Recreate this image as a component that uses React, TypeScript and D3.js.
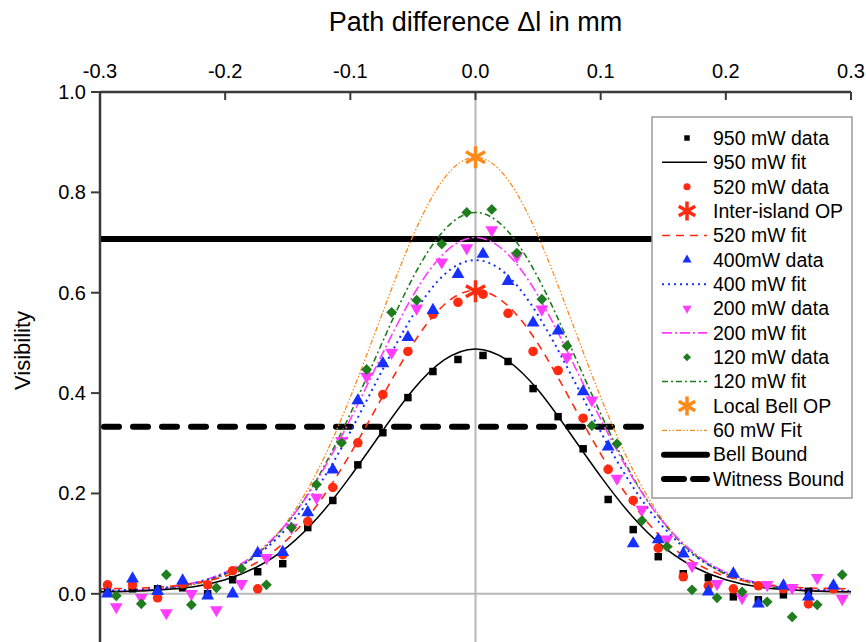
import React, { useEffect, useRef } from 'react';
import * as d3 from 'd3';

// measured points: black / red / blue share one x grid, magenta / green another
const xA = [-0.294, -0.274, -0.254, -0.234, -0.214, -0.194, -0.174, -0.154, -0.134, -0.114, -0.094, -0.074, -0.054, -0.034, -0.014, 0.006, 0.026, 0.046, 0.066, 0.086, 0.106, 0.126, 0.146, 0.166, 0.186, 0.206, 0.226, 0.246, 0.266, 0.286];
const xB = [-0.287, -0.267, -0.247, -0.227, -0.207, -0.187, -0.167, -0.147, -0.127, -0.107, -0.087, -0.067, -0.047, -0.027, -0.007, 0.013, 0.033, 0.053, 0.073, 0.093, 0.113, 0.133, 0.153, 0.173, 0.193, 0.213, 0.233, 0.253, 0.273, 0.293];

const data950 = [0.006, 0.010, 0.010, 0.012, 0.000, 0.028, 0.044, 0.060, 0.132, 0.186, 0.257, 0.321, 0.391, 0.443, 0.467, 0.475, 0.463, 0.409, 0.353, 0.289, 0.188, 0.128, 0.074, 0.040, 0.032, -0.006, -0.012, -0.002, 0.005, 0.012];
const data520 = [0.018, 0.018, -0.008, 0.020, 0.018, 0.046, 0.010, 0.078, 0.144, 0.212, 0.301, 0.397, 0.483, 0.557, 0.581, 0.597, 0.559, 0.483, 0.445, 0.350, 0.248, 0.186, 0.091, 0.034, 0.016, 0.010, 0.016, 0.010, -0.020, 0.010];
const data400 = [0.000, 0.030, 0.005, 0.026, -0.004, 0.000, 0.081, 0.083, 0.162, 0.247, 0.385, 0.459, 0.511, 0.565, 0.637, 0.677, 0.623, 0.540, 0.524, 0.403, 0.293, 0.100, 0.108, 0.080, 0.004, 0.040, -0.020, 0.016, -0.006, 0.016];
const data200 = [-0.026, -0.008, -0.038, 0.000, -0.032, 0.020, 0.072, 0.132, 0.192, 0.305, 0.433, 0.481, 0.569, 0.661, 0.689, 0.725, 0.673, 0.567, 0.472, 0.386, 0.230, 0.168, 0.109, 0.056, 0.020, -0.008, 0.018, 0.012, 0.032, -0.010];
const data120 = [-0.004, -0.020, 0.038, -0.022, 0.012, 0.050, 0.018, 0.132, 0.218, 0.301, 0.447, 0.561, 0.585, 0.697, 0.760, 0.766, 0.679, 0.587, 0.494, 0.335, 0.299, 0.146, 0.094, 0.008, -0.008, 0.004, -0.016, -0.046, -0.022, 0.038];

// fitted curves
const xFit = [-0.3, -0.275, -0.25, -0.225, -0.2, -0.175, -0.15, -0.125, -0.1, -0.075, -0.05, -0.025, 0, 0.025, 0.05, 0.075, 0.1, 0.125, 0.15, 0.175, 0.2, 0.225, 0.25, 0.275, 0.3];
const fit950 = [0.004, 0.005, 0.008, 0.014, 0.028, 0.053, 0.094, 0.155, 0.234, 0.322, 0.406, 0.466, 0.488, 0.466, 0.406, 0.322, 0.234, 0.155, 0.094, 0.053, 0.028, 0.014, 0.008, 0.005, 0.004];
const fit520 = [0.010, 0.011, 0.014, 0.021, 0.035, 0.062, 0.109, 0.182, 0.279, 0.390, 0.498, 0.576, 0.605, 0.576, 0.498, 0.390, 0.279, 0.182, 0.109, 0.062, 0.035, 0.021, 0.014, 0.011, 0.010];
const fit400 = [0.006, 0.008, 0.012, 0.021, 0.041, 0.076, 0.133, 0.216, 0.323, 0.443, 0.555, 0.636, 0.665, 0.636, 0.555, 0.443, 0.323, 0.216, 0.133, 0.076, 0.041, 0.021, 0.012, 0.008, 0.006];
const fit200 = [0.004, 0.006, 0.011, 0.022, 0.043, 0.081, 0.143, 0.233, 0.348, 0.475, 0.594, 0.679, 0.710, 0.679, 0.594, 0.475, 0.348, 0.233, 0.143, 0.081, 0.043, 0.022, 0.011, 0.006, 0.004];
const fit120 = [0.004, 0.006, 0.010, 0.020, 0.040, 0.078, 0.142, 0.236, 0.359, 0.498, 0.630, 0.725, 0.760, 0.725, 0.630, 0.498, 0.359, 0.236, 0.142, 0.078, 0.040, 0.020, 0.010, 0.006, 0.004];
const fit60 = [0.004, 0.005, 0.009, 0.018, 0.038, 0.078, 0.146, 0.251, 0.392, 0.555, 0.713, 0.828, 0.870, 0.828, 0.713, 0.555, 0.392, 0.251, 0.146, 0.078, 0.038, 0.018, 0.009, 0.005, 0.004];

const interIslandOP = [0, 0.603];
const localBellOP = [0, 0.870];
const bellBound = 0.707;
const witnessBound = 0.333;

const xTicks = [-0.3, -0.2, -0.1, 0, 0.1, 0.2, 0.3];
const yTicks = [0, 0.2, 0.4, 0.6, 0.8, 1.0];

const FONT = "'Liberation Sans', Arial, sans-serif";
const RED = '#ff2a10';
const BLUE = '#1530ff';
const MAGENTA = '#ff3cff';
const GREEN = '#1f7d1f';
const ORANGE = '#ff8a1a';

const fmt = (d: number) => d.toFixed(1);

export default function App() {
  const ref = useRef<SVGSVGElement>(null);

  useEffect(() => {
    document.body.style.margin = '0';
    const svg = d3.select(ref.current);
    svg.selectAll('*').remove();

    const x = d3.scaleLinear().domain([-0.3, 0.3]).range([100, 851]);
    const y = d3.scaleLinear().domain([-0.1, 1.0]).range([644, 92]);

    svg.append('rect').attr('width', 866).attr('height', 642).attr('fill', 'white');

    // zero lines
    svg.append('line')
      .attr('x1', x(0)).attr('x2', x(0)).attr('y1', y(1)).attr('y2', 642)
      .attr('stroke', '#b8b8b8').attr('stroke-width', 2);
    svg.append('line')
      .attr('x1', x(-0.3)).attr('x2', x(0.3)).attr('y1', y(0)).attr('y2', y(0))
      .attr('stroke', '#b8b8b8').attr('stroke-width', 2);

    // bounds
    svg.append('line')
      .attr('x1', x(-0.3)).attr('x2', x(0.3)).attr('y1', y(bellBound)).attr('y2', y(bellBound))
      .attr('stroke', 'black').attr('stroke-width', 6);
    svg.append('line')
      .attr('x1', x(-0.3) + 4).attr('x2', x(0.3)).attr('y1', y(witnessBound)).attr('y2', y(witnessBound))
      .attr('stroke', 'black').attr('stroke-width', 6)
      .attr('stroke-dasharray', '15,14').attr('stroke-linecap', 'round');

    const line = d3.line<number>()
      .x((d, i) => x(xFit[i]))
      .y(d => y(d))
      .curve(d3.curveNatural);

    const fits = [
      { v: fit60, color: ORANGE, dash: '5,2,1.5,2,1.5,2', w: 1.3 },
      { v: fit120, color: GREEN, dash: '6,3,2,3', w: 1.6 },
      { v: fit200, color: MAGENTA, dash: '10,3,2,3', w: 1.6 },
      { v: fit400, color: BLUE, dash: '2,4', w: 2 },
      { v: fit520, color: RED, dash: '8,6', w: 1.6 },
      { v: fit950, color: 'black', dash: null, w: 1.5 }
    ];
    fits.forEach(f => {
      svg.append('path')
        .attr('d', line(f.v))
        .attr('fill', 'none')
        .attr('stroke', f.color)
        .attr('stroke-width', f.w)
        .attr('stroke-dasharray', f.dash);
    });

    const series = [
      { xs: xA, v: data950, color: 'black', sym: d3.symbolSquare, size: 56, rot: 0 },
      { xs: xA, v: data520, color: RED, sym: d3.symbolCircle, size: 72, rot: 0 },
      { xs: xA, v: data400, color: BLUE, sym: d3.symbolTriangle, size: 72, rot: 0 },
      { xs: xB, v: data200, color: MAGENTA, sym: d3.symbolTriangle, size: 72, rot: 180 },
      { xs: xB, v: data120, color: GREEN, sym: d3.symbolSquare, size: 58, rot: 45 }
    ];
    series.forEach(s => {
      svg.append('g')
        .selectAll('path')
        .data(s.v)
        .join('path')
        .attr('d', d3.symbol().type(s.sym).size(s.size)())
        .attr('fill', s.color)
        .attr('transform', (d, i) => `translate(${x(s.xs[i])},${y(d)}) rotate(${s.rot})`);
    });

    const star = (g, cx, cy, r, color) => {
      const p = d3.path();
      [90, 30, -30].forEach(a => {
        const rad = (a * Math.PI) / 180;
        p.moveTo(cx - r * Math.cos(rad), cy - r * Math.sin(rad));
        p.lineTo(cx + r * Math.cos(rad), cy + r * Math.sin(rad));
      });
      g.append('path').attr('d', p.toString()).attr('stroke', color)
        .attr('stroke-width', 3.5).attr('fill', 'none');
    };
    star(svg, x(interIslandOP[0]), y(interIslandOP[1]), 11, RED);
    star(svg, x(localBellOP[0]), y(localBellOP[1]), 11, ORANGE);

    // axes
    const axisColor = '#3a3a3a';
    svg.append('line')
      .attr('x1', x(-0.3)).attr('x2', x(-0.3)).attr('y1', y(1)).attr('y2', 642)
      .attr('stroke', axisColor).attr('stroke-width', 2.5);
    svg.append('line')
      .attr('x1', x(-0.3)).attr('x2', x(0.3)).attr('y1', y(1)).attr('y2', y(1))
      .attr('stroke', axisColor).attr('stroke-width', 2.5);

    svg.append('g').selectAll('line').data(xTicks).join('line')
      .attr('x1', d => x(d)).attr('x2', d => x(d))
      .attr('y1', y(1)).attr('y2', y(1) + 8)
      .attr('stroke', axisColor).attr('stroke-width', 2);
    svg.append('g').selectAll('text').data(xTicks).join('text')
      .attr('x', d => x(d)).attr('y', 78)
      .attr('text-anchor', 'middle')
      .attr('font-family', FONT).attr('font-size', 20)
      .text(fmt);

    svg.append('g').selectAll('line').data(yTicks).join('line')
      .attr('x1', x(-0.3) - 9).attr('x2', x(-0.3))
      .attr('y1', d => y(d)).attr('y2', d => y(d))
      .attr('stroke', axisColor).attr('stroke-width', 2);
    svg.append('g').selectAll('text').data(yTicks).join('text')
      .attr('x', 86).attr('y', d => y(d))
      .attr('dy', '0.35em')
      .attr('text-anchor', 'end')
      .attr('font-family', FONT).attr('font-size', 20)
      .text(fmt);

    svg.append('text')
      .attr('x', x(0)).attr('y', 31)
      .attr('text-anchor', 'middle')
      .attr('font-family', FONT).attr('font-size', 27)
      .text('Path difference \u0394l in mm');
    svg.append('text')
      .attr('transform', `translate(30,${y(0.485)}) rotate(-90)`)
      .attr('text-anchor', 'middle')
      .attr('font-family', FONT).attr('font-size', 22)
      .text('Visibility');

    // legend
    const lg = svg.append('g');
    lg.append('rect')
      .attr('x', 652).attr('y', 117).attr('width', 200).attr('height', 381)
      .attr('fill', 'white').attr('stroke', '#9a9a9a').attr('stroke-width', 1.5);

    const legendItems = [
      { label: '950 mW data', kind: 'sym', color: 'black', sym: d3.symbolSquare, size: 30, rot: 0 },
      { label: '950 mW fit', kind: 'line', color: 'black', dash: null, w: 1.5 },
      { label: '520 mW data', kind: 'sym', color: RED, sym: d3.symbolCircle, size: 40, rot: 0 },
      { label: 'Inter-island OP', kind: 'star', color: RED },
      { label: '520 mW fit', kind: 'line', color: RED, dash: '8,6', w: 1.6 },
      { label: '400mW data', kind: 'sym', color: BLUE, sym: d3.symbolTriangle, size: 36, rot: 0 },
      { label: '400 mW fit', kind: 'line', color: BLUE, dash: '2,4', w: 2 },
      { label: '200 mW data', kind: 'sym', color: MAGENTA, sym: d3.symbolTriangle, size: 36, rot: 180 },
      { label: '200 mW fit', kind: 'line', color: MAGENTA, dash: '10,3,2,3', w: 1.6 },
      { label: '120 mW data', kind: 'sym', color: GREEN, sym: d3.symbolSquare, size: 32, rot: 45 },
      { label: '120 mW fit', kind: 'line', color: GREEN, dash: '6,3,2,3', w: 1.6 },
      { label: 'Local Bell OP', kind: 'star', color: ORANGE },
      { label: '60 mW Fit', kind: 'line', color: ORANGE, dash: '5,2,1.5,2,1.5,2', w: 1.3 },
      { label: 'Bell Bound', kind: 'bound', color: 'black', dash: null },
      { label: 'Witness Bound', kind: 'bound', color: 'black', dash: '20,9' }
    ];
    const rowY = d3.scaleLinear().domain([0, legendItems.length - 1]).range([138, 479]);
    legendItems.forEach((it, i) => {
      const cy = rowY(i);
      if (it.kind === 'sym') {
        lg.append('path')
          .attr('d', d3.symbol().type(it.sym).size(it.size)())
          .attr('fill', it.color)
          .attr('transform', `translate(687,${cy}) rotate(${it.rot})`);
      } else if (it.kind === 'line') {
        lg.append('line')
          .attr('x1', 662).attr('x2', 707).attr('y1', cy).attr('y2', cy)
          .attr('stroke', it.color).attr('stroke-width', it.w)
          .attr('stroke-dasharray', it.dash);
      } else if (it.kind === 'star') {
        star(lg, 687, cy, 9.5, it.color);
      } else {
        lg.append('line')
          .attr('x1', 664).attr('x2', 707).attr('y1', cy).attr('y2', cy)
          .attr('stroke', it.color).attr('stroke-width', 6)
          .attr('stroke-linecap', 'round')
          .attr('stroke-dasharray', it.dash);
      }
      lg.append('text')
        .attr('x', 713).attr('y', cy)
        .attr('dy', '0.35em')
        .attr('font-family', FONT).attr('font-size', 19.5)
        .text(it.label);
    });
  }, []);

  return <svg ref={ref} width={866} height={642} style={{ display: 'block' }} />;
}
